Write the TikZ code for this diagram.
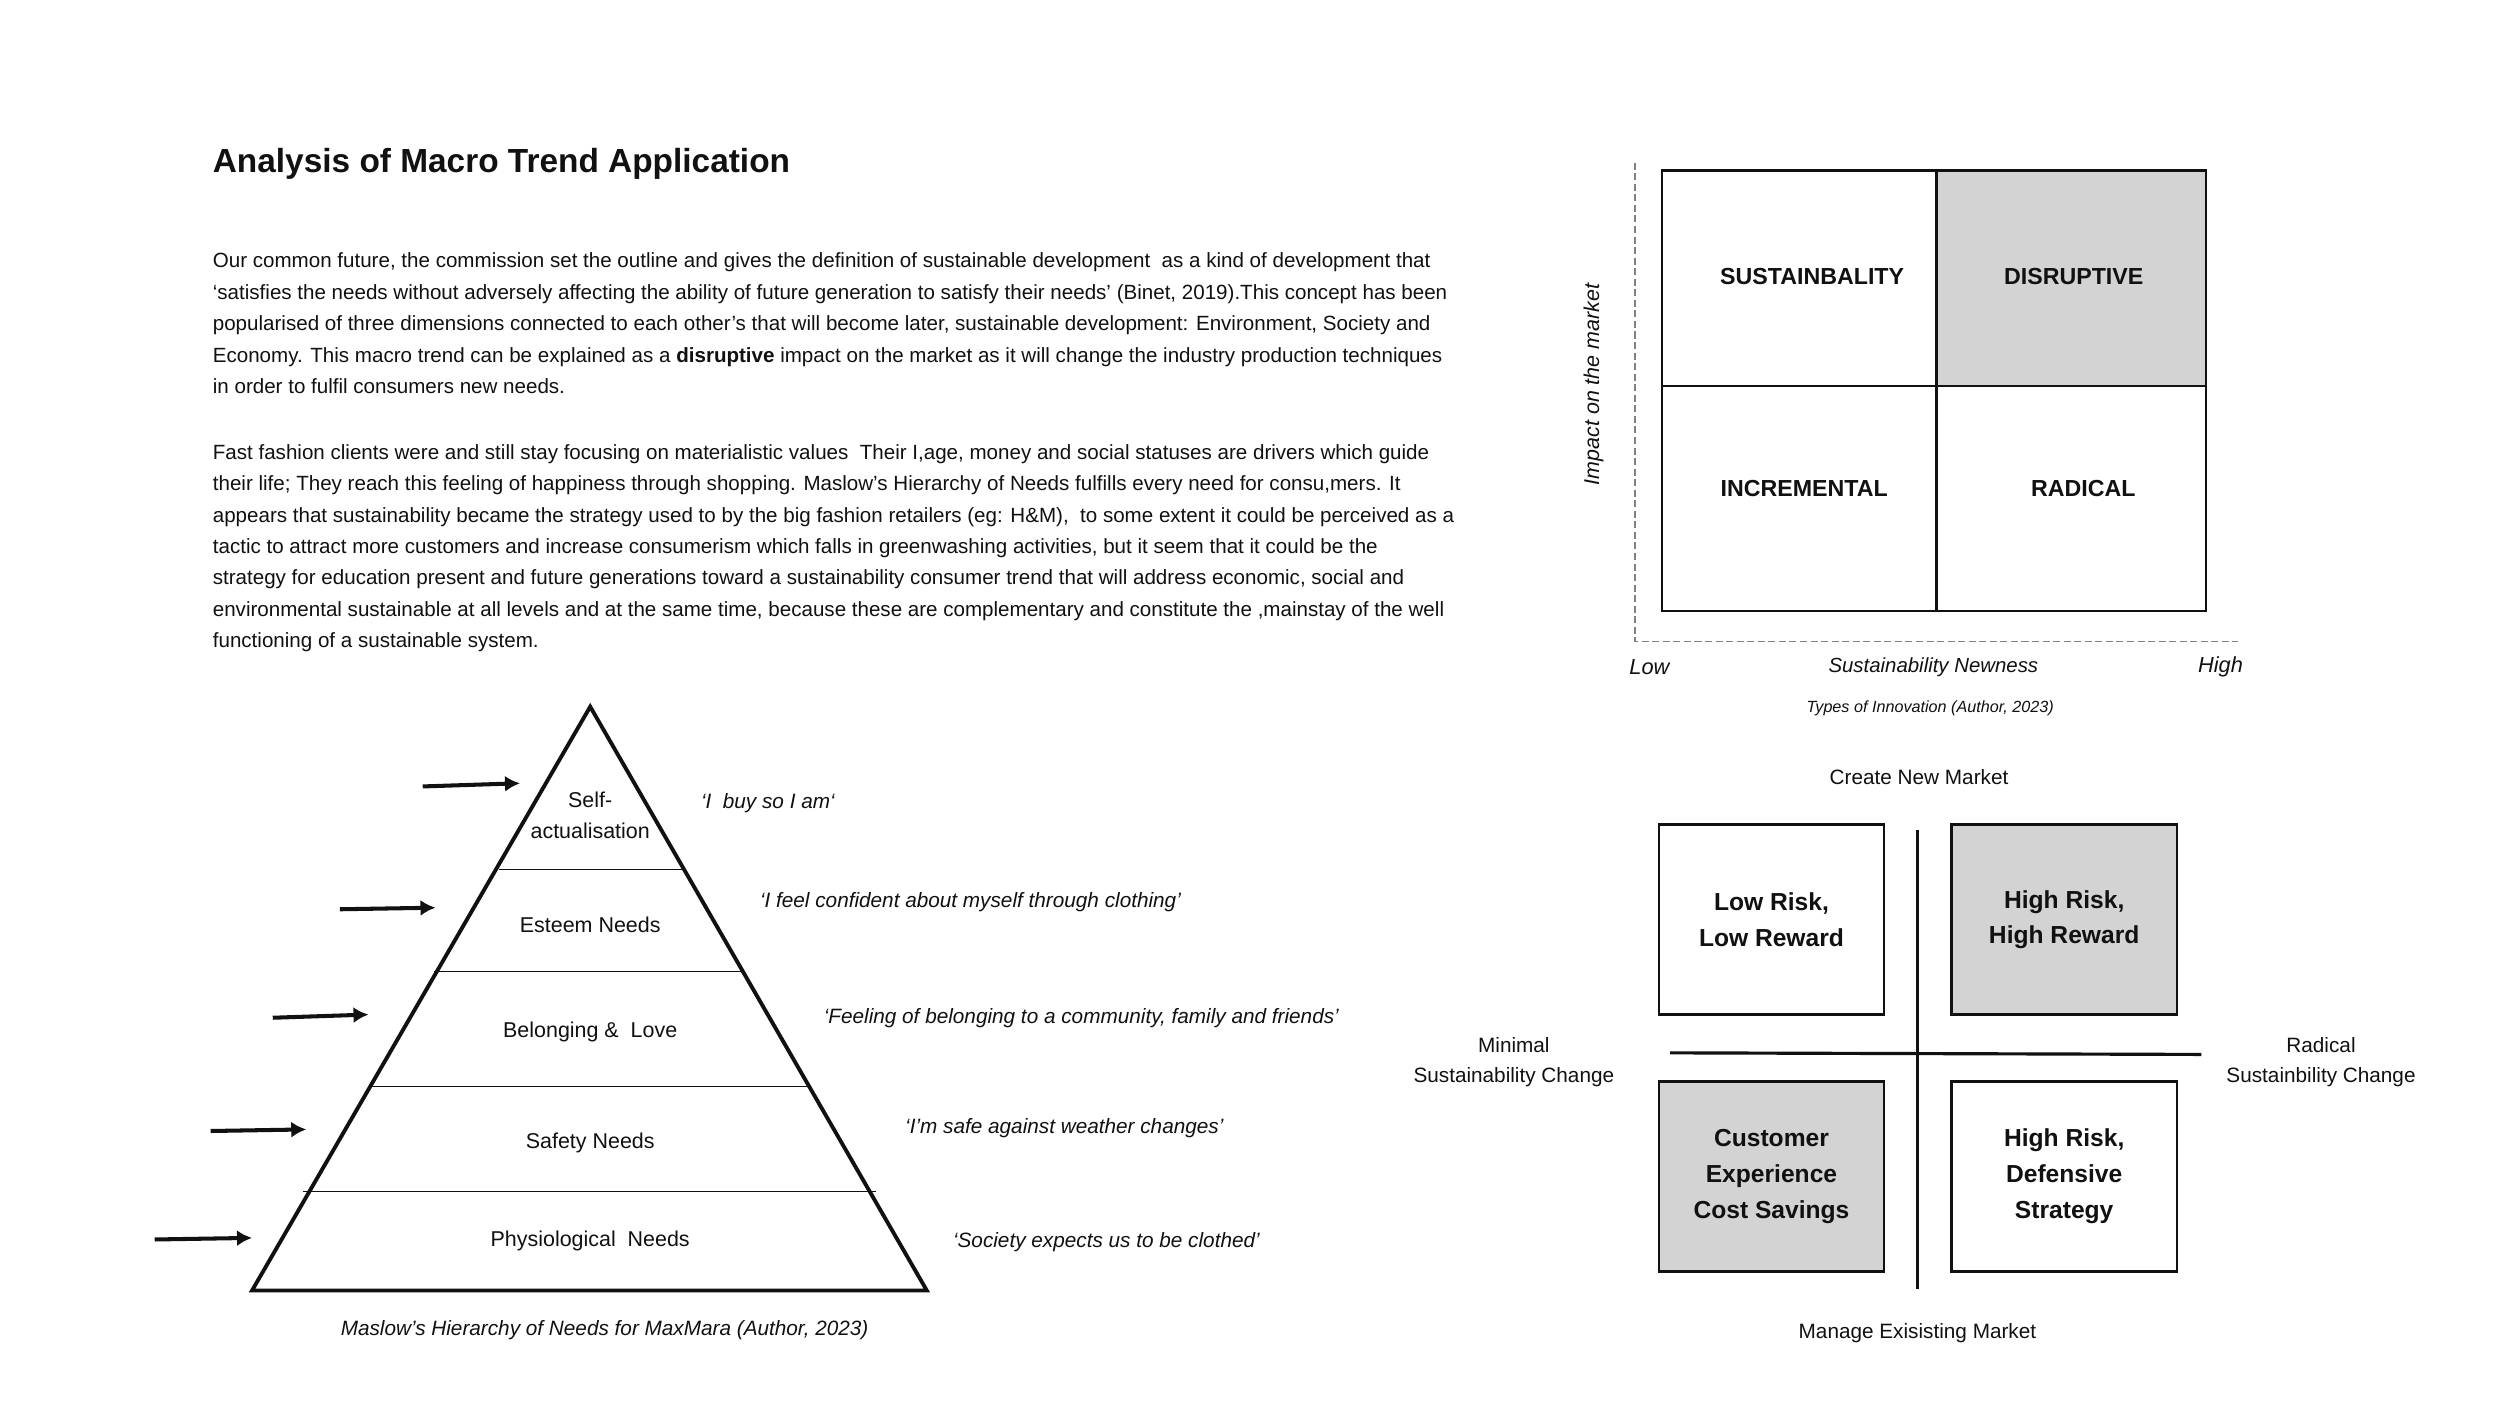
\documentclass[tikz,border=0pt]{standalone}
\usepackage{fontspec}
\setmainfont{Liberation Sans}
\usepackage{xcolor}
\usepackage{tikz}
\usetikzlibrary{positioning, arrows.meta}
\definecolor{cellgray}{HTML}{D3D3D3}
\definecolor{inkblack}{HTML}{111111}
\tikzstyle{para} = [anchor=north west, align=left, inner sep=0pt, text=inkblack,
    font=\fontsize{5.85}{8.95}\selectfont]
\tikzstyle{tier} = [align=center, inner sep=0pt, text=inkblack, font=\fontsize{6.1}{8.9}\selectfont]
\tikzstyle{saying} = [anchor=west, inner sep=0pt, text=inkblack, font=\fontsize{5.9}{7}\selectfont\itshape]
\tikzstyle{captiontext} = [inner sep=0pt, text=inkblack, font=\fontsize{5.9}{7}\selectfont\itshape]
\tikzstyle{pointer} = [draw, -{Latex[length=1.5mm, width=1.6mm]}, line width=1.15pt, inkblack]
\tikzstyle{matrixline} = [draw, line width=0.7pt, inkblack]
\tikzstyle{axisline} = [draw, gray, dash pattern=on 2pt off 1pt, line width=0.4pt]
\tikzstyle{quadlabel} = [inner sep=0pt, text=inkblack, font=\fontsize{6.6}{8}\selectfont\bfseries]
\tikzstyle{riskbox} = [rectangle, draw, line width=0.7pt, inkblack, text=inkblack, align=center,
    minimum width=22.5mm, minimum height=19mm, inner sep=0pt, font=\fontsize{7}{10.2}\selectfont\bfseries]
\tikzstyle{sidelabel} = [align=center, inner sep=0pt, text=inkblack, font=\fontsize{5.9}{8.65}\selectfont]

\begin{document}
\begin{tikzpicture}[x=0.015952cm, y=-0.015952cm]
      \useasboundingbox [fill=white] (0,0) rectangle (1567.2,881.4);

      % Title and text
      \node [anchor=west, inner sep=0pt, text=inkblack, font=\fontsize{9.5}{11}\selectfont\bfseries] (title) at (133,103) {Analysis of Macro Trend Application};
      \node [para] (intro) at (133,158) {Our common future, the commission set the outline and gives the definition of sustainable development\ \ as a kind of development that\\
        ‘satisfies the needs without adversely affecting the ability of future generation to satisfy their needs’ (Binet, 2019).This concept has been\\
        popularised of three dimensions connected to each other’s that will become later, sustainable development: Environment, Society and\\
        Economy. This macro trend can be explained as a \textbf{disruptive} impact on the market as it will change the industry production techniques\\
        in order to fulfil consumers new needs.};
      \node [para] (fashion) at (133,278) {Fast fashion clients were and still stay focusing on materialistic values\ \ Their I,age, money and social statuses are drivers which guide\\
        their life; They reach this feeling of happiness through shopping. Maslow’s Hierarchy of Needs fulfills every need for consu,mers. It\\
        appears that sustainability became the strategy used to by the big fashion retailers (eg: H\&M),\ \ to some extent it could be perceived as a\\
        tactic to attract more customers and increase consumerism which falls in greenwashing activities, but it seem that it could be the\\
        strategy for education present and future generations toward a sustainability consumer trend that will address economic, social and\\
        environmental sustainable at all levels and at the same time, because these are complementary and constitute the ,mainstay of the well\\
        functioning of a sustainable system.};

      % Pyramid
      \coordinate (apex) at (370,443);
      \coordinate (baseL) at (158,809);
      \coordinate (baseR) at (581,809);
      \draw [line width=1.1pt, inkblack] (apex) -- (baseR) -- (baseL) -- cycle;
      \draw [line width=0.45pt, inkblack] (313,545) -- (428,545);
      \draw [line width=0.45pt, inkblack] (272,609) -- (466,609);
      \draw [line width=0.45pt, inkblack] (232,681) -- (507,681);
      \draw [line width=0.45pt, inkblack] (190,747) -- (549,747);

      \node [tier] (selfact) at (370,511) {Self-\\actualisation};
      \node [tier] (esteem) at (370,580) {Esteem Needs};
      \node [tier] (belong) at (370,647) {Belonging \&~ Love};
      \node [tier] (safety) at (370,716.5) {Safety Needs};
      \node [tier] (physio) at (370,778) {Physiological~ Needs};

      \node [saying] (buy) at (439,503.5) {‘I~ buy so I am‘};
      \node [saying] (confident) at (476,565.5) {‘I feel confident about myself through clothing’};
      \node [saying] (community) at (516,638.5) {‘Feeling of belonging to a community, family and friends’};
      \node [saying] (weather) at (567,707.5) {‘I’m safe against weather changes’};
      \node [saying] (clothed) at (597,778.5) {‘Society expects us to be clothed’};

      % Pointers
      \coordinate (selfT) at (265,493);
      \coordinate (selfH) at (326,491);
      \coordinate (esteemT) at (213,570);
      \coordinate (esteemH) at (273,569);
      \coordinate (belongT) at (171,638);
      \coordinate (belongH) at (231,636);
      \coordinate (safetyT) at (132,709);
      \coordinate (safetyH) at (192,708);
      \coordinate (physioT) at (97,777);
      \coordinate (physioH) at (158,776);
      \path [pointer] (selfT) -- (selfH);
      \path [pointer] (esteemT) -- (esteemH);
      \path [pointer] (belongT) -- (belongH);
      \path [pointer] (safetyT) -- (safetyH);
      \path [pointer] (physioT) -- (physioH);

      \node [captiontext] (maslow) at (379,834) {Maslow’s Hierarchy of Needs for MaxMara (Author, 2023)};

      % Types of innovation
      \draw [axisline] (1025,102) -- (1025,402) -- (1403,402);
      \fill [cellgray] (1214,107) rectangle (1383,242);
      \draw [matrixline] (1042,107) rectangle (1383,383);
      \draw [matrixline] (1214,107) -- (1214,383);
      \draw [matrixline] (1042,242) -- (1383,242);

      \node [quadlabel] (sustain) at (1136,173.5) {SUSTAINBALITY};
      \node [quadlabel] (disrupt) at (1300,173.5) {DISRUPTIVE};
      \node [quadlabel] (increment) at (1131,306.5) {INCREMENTAL};
      \node [quadlabel] (radical) at (1306,306.5) {RADICAL};

      \node [captiontext, rotate=90, font=\fontsize{6.1}{7}\selectfont\itshape] (impact) at (999,241) {Impact on the market};
      \node [captiontext, font=\fontsize{6.2}{7}\selectfont\itshape] (low) at (1034,418) {Low};
      \node [captiontext, font=\fontsize{5.8}{7}\selectfont\itshape] (newness) at (1212,418) {Sustainability Newness};
      \node [captiontext, font=\fontsize{6.2}{7}\selectfont\itshape] (high) at (1392,418) {High};
      \node [captiontext, font=\fontsize{4.6}{6}\selectfont\itshape] (types) at (1210,444) {Types of Innovation (Author, 2023)};

      % Risk matrix
      \node [sidelabel] (create) at (1203,487) {Create New Market};
      \node [riskbox] (lowrisk) at (1110.5,576.5) {Low Risk,\\Low Reward};
      \node [riskbox, fill=cellgray] (highreward) at (1294,576.5) {High Risk,\\High Reward};
      \node [riskbox, fill=cellgray] (customer) at (1110.5,737.5) {Customer\\Experience\\Cost Savings};
      \node [riskbox] (defensive) at (1294,737.5) {High Risk,\\Defensive\\Strategy};
      \coordinate (crossW) at (1047,660);
      \coordinate (crossE) at (1380,661);
      \coordinate (crossN) at (1202,520);
      \coordinate (crossS) at (1202,808);
      \draw [line width=0.9pt, inkblack] (crossW) -- (crossE);
      \draw [line width=0.9pt, inkblack] (crossN) -- (crossS);
      \node [sidelabel] (minimal) at (949,666) {Minimal\\Sustainability Change};
      \node [sidelabel] (radicalchange) at (1455,666) {Radical\\Sustainbility Change};
      \node [sidelabel] (manage) at (1202,836) {Manage Exisisting Market};
\end{tikzpicture}
\end{document}
